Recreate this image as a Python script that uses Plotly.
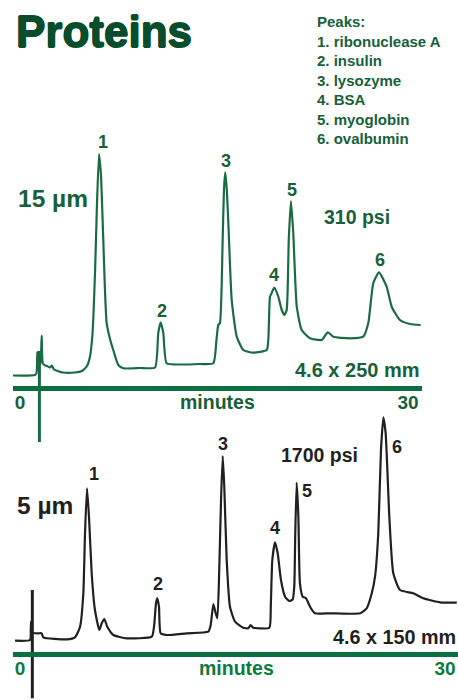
import plotly.graph_objects as go

# ---------------- data ----------------
# 15 um column (4.6 x 250 mm, 310 psi): retention time (min) and detector signal (arb. units)
top_time = [-0.54, 1.16, 1.28, 1.34, 1.41, 1.59, 1.68, 1.78, 2.09, 2.32, 2.47, 2.63, 3.32, 4.25,
            4.79, 5.18, 5.41, 5.61, 5.80, 5.95, 6.11, 6.26, 6.44, 6.57, 6.70, 6.96, 7.21, 7.60,
            7.99, 9.28, 10.44, 10.69, 10.88, 11.08, 11.34, 12.37, 13.92, 14.95, 15.19, 15.33,
            15.46, 15.67, 15.77, 15.87, 15.99, 16.11, 16.37, 16.76, 17.27, 18.02, 19.08, 19.20,
            19.33, 19.46, 19.66, 19.97, 20.24, 20.44, 20.62, 20.78, 20.95, 21.13, 21.40, 21.78,
            22.42, 23.33, 23.80, 24.23, 25.52, 26.54, 26.93, 27.32, 27.76, 28.35, 28.74, 29.38,
            30.16, 30.98]
top_signal = [12.2, 12.7, 14.7, 35.7, 19.7, 25.7, 52.2, 23.7, 21.7, 20.2, 22.2, 18.2, 15.2, 15.2,
              16.7, 21.7, 31.0, 54.7, 114.7, 182.7, 233.7, 212.7, 147.7, 97.7, 64.7, 48.7, 37.7, 22.7,
              19.4, 19.7, 20.2, 54.7, 65.4, 54.7, 24.4, 23.2, 23.7, 24.4, 47.7, 62.7,
              64.7, 147.7, 197.7, 215.4, 197.7, 164.7, 87.7, 51.0, 37.7, 35.0, 37.7, 47.7,
              91.0, 94.7, 100.0, 91.0, 77.7, 72.7, 77.7, 147.7, 186.7, 154.7, 81.0, 57.7,
              49.4, 47.7, 55.4, 51.0, 49.4, 51.0, 64.7, 104.7, 115.4, 101.0, 81.0, 67.7,
              63.7, 62.7]
top_inject_time = [1.50, 1.50]
top_inject_signal = [36.7, -54.3]

# 5 um column (4.6 x 150 mm, 1700 psi)
bot_time = [-0.35, 0.71, 0.76, 0.78, 0.81, 0.94, 1.29, 1.53, 1.64, 3.30, 3.88, 4.24, 4.47, 4.59,
            4.73, 4.87, 5.06, 5.29, 5.60, 5.77, 5.95, 6.16, 6.59, 7.53, 9.30, 9.46, 9.60, 9.69,
            9.81, 9.93, 10.36, 11.77, 13.29, 13.46, 13.65, 13.81, 13.93, 14.07, 14.19, 14.31,
            14.42, 14.59, 14.82, 15.18, 15.76, 16.12, 16.28, 16.47, 17.60, 17.70, 17.81, 18.00,
            18.19, 18.42, 18.71, 19.01, 19.25, 19.36, 19.43, 19.53, 19.65, 19.76, 19.96, 20.19,
            20.47, 20.82, 21.88, 24.00, 24.47, 24.83, 25.06, 25.29, 25.48, 25.65, 25.81, 26.07,
            26.35, 26.82, 27.76, 28.47, 29.65, 30.83]
bot_signal = [13.6, 14.3, 24.3, 32.6, 22.3, 21.3, 21.0, 21.0, 17.0, 15.0, 17.0, 27.6, 61.0, 121.3,
              166.0, 137.6, 81.0, 44.3, 24.3, 31.0, 35.3, 27.6, 19.3, 16.0, 17.6, 27.6, 51.0, 56.0,
              47.6, 21.0, 19.3, 21.0, 22.6, 29.3, 50.3, 41.0, 36.0, 87.6, 154.3, 198.3,
              167.6, 94.3, 47.6, 32.6, 26.6, 26.0, 29.3, 26.6, 26.6, 47.6, 94.3, 112.0,
              101.0, 74.3, 57.6, 53.3, 55.0, 67.6, 121.0, 171.6, 137.6, 71.0, 57.6, 56.0,
              47.6, 41.0, 41.0, 41.0, 46.0, 61.0, 77.6, 121.0, 204.3, 237.0, 221.0, 137.6,
              81.0, 64.3, 61.0, 56.0, 52.0, 51.6]
bot_inject_time = [0.87, 0.87]
bot_inject_signal = [64.3, -44.0]

# peak apexes and labels
peak_labels = ["1", "2", "3", "4", "5", "6"]
top_peak_time = [6.11, 10.88, 15.87, 19.66, 20.95, 27.76]
top_peak_signal = [233.7, 65.4, 215.4, 100.0, 186.7, 115.4]
bot_peak_time = [4.73, 9.69, 14.31, 18.00, 19.53, 25.65]
bot_peak_signal = [166.0, 56.0, 198.3, 112.0, 171.6, 237.0]

peak_names = ["ribonuclease A", "insulin", "lysozyme", "BSA", "myoglobin", "ovalbumin"]
x_ticks = [0, 30]
x_tick_text = ["0", "30"]

# ---------------- style ----------------
W, H = 458, 700
FONT = "Liberation Sans"
TITLE_GREEN = "#0a4d2c"
TEXT_GREEN = "#17603a"
TRACE_GREEN = "#1a6b43"
AXIS_GREEN = "#0b7040"
BOT_AXIS_TEXT = "#0d7a40"
BLACK = "#231f20"

# top subplot pixel geometry
top_x0_px, top_x1_px = 12.5, 422.0
top_zero_px, top_px_per_min = 20.0, 12.933
top_axis_px = 387.7
top_dom_px = (130.0, 450.0)
# bottom subplot
bot_x0_px, bot_x1_px = 13.0, 458.0
bot_zero_px, bot_px_per_min = 20.0, 14.167
bot_axis_px = 654.3
bot_dom_px = (405.0, 700.0)

def xrange_for(x0, x1, z, s):
    return [(x0 - z) / s, (x1 - z) / s]

fig = go.Figure()

fig.add_trace(go.Scatter(x=top_time, y=top_signal, mode="lines",
                         line=dict(color=TRACE_GREEN, width=2.2, shape="spline", smoothing=0.5),
                         xaxis="x", yaxis="y", hoverinfo="skip"))
fig.add_trace(go.Scatter(x=top_inject_time, y=top_inject_signal, mode="lines",
                         line=dict(color=TRACE_GREEN, width=3),
                         xaxis="x", yaxis="y", hoverinfo="skip"))
fig.add_trace(go.Scatter(x=bot_time, y=bot_signal, mode="lines",
                         line=dict(color=BLACK, width=2.2, shape="spline", smoothing=0.5),
                         xaxis="x2", yaxis="y2", hoverinfo="skip"))
fig.add_trace(go.Scatter(x=bot_inject_time, y=bot_inject_signal, mode="lines",
                         line=dict(color=BLACK, width=3),
                         xaxis="x2", yaxis="y2", hoverinfo="skip"))

def ydomain(px):
    return [1 - px[1] / H, 1 - px[0] / H]

top_yr = [top_axis_px - top_dom_px[1], top_axis_px - top_dom_px[0]]
bot_yr = [bot_axis_px - bot_dom_px[1], bot_axis_px - bot_dom_px[0]]

axis_common = dict(showgrid=False, zeroline=False, ticks="", showline=True,
                   linewidth=5, tickmode="array", tickvals=x_ticks, ticktext=x_tick_text,
                   anchor="free", fixedrange=True, ticklabelstandoff=-5)

fig.update_layout(
    width=W, height=H, margin=dict(l=0, r=0, t=0, b=0),
    paper_bgcolor="white", plot_bgcolor="rgba(0,0,0,0)",
    showlegend=False,
    xaxis=dict(domain=[top_x0_px / W, top_x1_px / W],
               range=xrange_for(top_x0_px, top_x1_px, top_zero_px, top_px_per_min),
               linecolor=AXIS_GREEN, position=1 - top_axis_px / H,
               tickfont=dict(family=FONT, size=19, color=TEXT_GREEN, weight="bold"),
               **axis_common),
    yaxis=dict(domain=ydomain(top_dom_px), range=top_yr, visible=False, fixedrange=True),
    xaxis2=dict(domain=[bot_x0_px / W, bot_x1_px / W],
                range=xrange_for(bot_x0_px, bot_x1_px, bot_zero_px, bot_px_per_min),
                linecolor=AXIS_GREEN, position=1 - bot_axis_px / H,
                tickfont=dict(family=FONT, size=19, color=BOT_AXIS_TEXT, weight="bold"),
                **axis_common),
    yaxis2=dict(domain=ydomain(bot_dom_px), range=bot_yr, visible=False, fixedrange=True),
)

ann = []
def paper_text(text, x_px, y_px, size, color, xanchor="center", yanchor="middle", align="left",
               shadow=None):
    f = dict(family=FONT, size=size, color=color, weight="bold")
    if shadow:
        f["shadow"] = shadow
    ann.append(dict(text=text, x=x_px / W, y=1 - y_px / H, xref="paper", yref="paper",
                    xanchor=xanchor, yanchor=yanchor, showarrow=False, align=align, font=f))

heavy = f"0.7px 0 0 {TITLE_GREEN}, -0.7px 0 0 {TITLE_GREEN}, 0 0.6px 0 {TITLE_GREEN}, 0 -0.6px 0 {TITLE_GREEN}"
paper_text("Proteins", 14, 32, 44, TITLE_GREEN, xanchor="left", shadow=heavy)
legend_text = "Peaks:<br>" + "<br>".join(f"{i+1}. {n}" for i, n in enumerate(peak_names))
paper_text(legend_text, 315, 80, 15, TEXT_GREEN, xanchor="left")

paper_text("15 µm", 16, 199, 24.5, TEXT_GREEN, xanchor="left")
paper_text("310 psi", 357, 217, 19.5, TEXT_GREEN)
paper_text("4.6 x 250 mm", 357, 370, 20, TEXT_GREEN)
paper_text("minutes", 217, 402, 19.5, TEXT_GREEN)

paper_text("5 µm", 15, 505, 24.5, BLACK, xanchor="left")
paper_text("1700 psi", 319.5, 455, 19.5, BLACK)
paper_text("4.6 x 150 mm", 394.5, 637, 19.8, BLACK)
paper_text("minutes", 236, 668, 19.5, BOT_AXIS_TEXT)

top_label_shift = [(4, 12), (1, 11), (1, 11), (0, 13), (1, 11), (1, 12)]
bot_label_shift = [(7, 14), (1, 14), (0, 12), (0, 14), (10, -8), (14, -30)]
for lab, t, s, (dx, dy) in zip(peak_labels, top_peak_time, top_peak_signal, top_label_shift):
    ann.append(dict(text=lab, x=t, y=s, xref="x", yref="y", showarrow=False,
                    xanchor="center", yanchor="middle", xshift=dx, yshift=dy,
                    font=dict(family=FONT, size=18, color=TEXT_GREEN, weight="bold")))
for lab, t, s, (dx, dy) in zip(peak_labels, bot_peak_time, bot_peak_signal, bot_label_shift):
    ann.append(dict(text=lab, x=t, y=s, xref="x2", yref="y2", showarrow=False,
                    xanchor="center", yanchor="middle", xshift=dx, yshift=dy,
                    font=dict(family=FONT, size=18, color=BLACK, weight="bold")))

fig.update_layout(annotations=ann)
fig.write_html("out.html", config={"displayModeBar": False, "staticPlot": True},
               post_script="document.body.style.margin='0';")
